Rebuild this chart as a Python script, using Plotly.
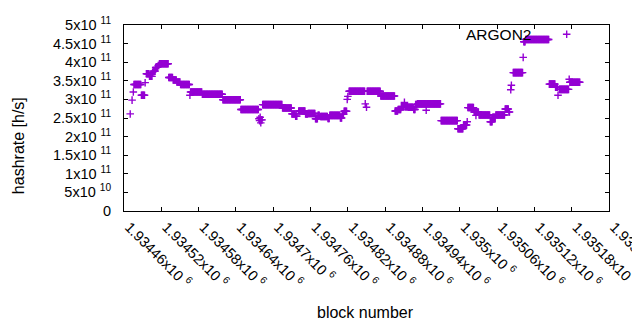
import plotly.graph_objects as go

# Runs of consecutive blocks sharing the same hashrate, values in units of 1e9 h/s
run_start = [1934470, 1934473, 1934475, 1934476, 1934488, 1934494, 1934496, 1934501, 1934506, 1934507,
             1934511, 1934515, 1934517, 1934532, 1934539, 1934545, 1934551, 1934566, 1934567, 1934586,
             1934619, 1934648, 1934677, 1934678, 1934679, 1934680, 1934681, 1934683, 1934715, 1934730,
             1934736, 1934741, 1934752, 1934756, 1934768, 1934772, 1934776, 1934788, 1934791, 1934808,
             1934811, 1934814, 1934819, 1934820, 1934822, 1934848, 1934850, 1934851, 1934873, 1934896,
             1934901, 1934906, 1934911, 1934912, 1934917, 1934926, 1934929, 1934932, 1934946, 1934970,
             1934997, 1935006, 1935012, 1935013, 1935023, 1935026, 1935031, 1935049, 1935053, 1935058,
             1935073, 1935079, 1935082, 1935083, 1935086, 1935102, 1935103, 1935106, 1935144, 1935154,
             1935158, 1935160, 1935176, 1935177]
run_end = [1934470, 1934473, 1934475, 1934487, 1934493, 1934494, 1934500, 1934505, 1934506, 1934510,
           1934514, 1934516, 1934531, 1934538, 1934544, 1934550, 1934565, 1934566, 1934585, 1934618,
           1934647, 1934676, 1934677, 1934678, 1934679, 1934680, 1934682, 1934714, 1934729, 1934735,
           1934738, 1934751, 1934755, 1934767, 1934771, 1934774, 1934787, 1934790, 1934807, 1934810,
           1934813, 1934818, 1934819, 1934820, 1934847, 1934848, 1934850, 1934872, 1934895, 1934900,
           1934905, 1934910, 1934911, 1934916, 1934925, 1934928, 1934931, 1934969, 1934946, 1934996,
           1935005, 1935011, 1935012, 1935022, 1935030, 1935026, 1935048, 1935052, 1935057, 1935072,
           1935078, 1935080, 1935082, 1935083, 1935101, 1935102, 1935105, 1935143, 1935153, 1935157,
           1935158, 1935175, 1935176, 1935193]
run_hashrate_g = [261, 298, 320, 340, 311, 345, 369, 362, 373, 376,
                  386, 391, 396, 359, 352, 347, 340, 311, 320, 314,
                  299, 273, 248, 243, 252, 237, 245, 286, 277, 261,
                  255, 269, 261, 262, 248, 257, 254, 249, 257, 250,
                  260, 268, 300, 308, 322, 288, 279, 322, 309, 269,
                  273, 280, 292, 280, 279, 273, 286, 288, 271, 243,
                  221, 231, 240, 278, 266, 257, 258, 240, 252, 258,
                  274, 266, 326, 338, 372, 413, 455, 461, 341, 333,
                  311, 327, 354, 346]

series_name = "ARGON2"

# Axis ticks
x_tick_values = [1934460, 1934520, 1934580, 1934640, 1934700, 1934760, 1934820,
                 1934880, 1934940, 1935000, 1935060, 1935120, 1935180, 1935240]
x_tick_labels = ["1.93446x10 <sup>6</sup>", "1.93452x10 <sup>6</sup>", "1.93458x10 <sup>6</sup>",
                 "1.93464x10 <sup>6</sup>", "1.9347x10 <sup>6</sup>", "1.93476x10 <sup>6</sup>",
                 "1.93482x10 <sup>6</sup>", "1.93488x10 <sup>6</sup>", "1.93494x10 <sup>6</sup>",
                 "1.935x10 <sup>6</sup>", "1.93506x10 <sup>6</sup>", "1.93512x10 <sup>6</sup>",
                 "1.93518x10 <sup>6</sup>", "1.93524x10 <sup>6</sup>"]
y_tick_values = [0, 5e10, 1e11, 1.5e11, 2e11, 2.5e11, 3e11, 3.5e11, 4e11, 4.5e11, 5e11]
y_tick_labels = ["0", "5x10 <sup>10</sup>", "1x10 <sup>11</sup>", "1.5x10 <sup>11</sup>",
                 "2x10 <sup>11</sup>", "2.5x10 <sup>11</sup>", "3x10 <sup>11</sup>",
                 "3.5x10 <sup>11</sup>", "4x10 <sup>11</sup>", "4.5x10 <sup>11</sup>",
                 "5x10 <sup>11</sup>"]

# one point per block inside each run
blocks, hashrates = [], []
for s, e, v in zip(run_start, run_end, run_hashrate_g):
    for b in range(s, e + 1):
        blocks.append(b)
        hashrates.append(v * 1e9)

PURPLE = "#9400D3"
FONT = "Liberation Sans, Arial, sans-serif"

fig = go.Figure()
fig.add_trace(go.Scatter(
    x=blocks, y=hashrates, mode="markers", name="",
    marker=dict(symbol="cross-thin", size=5.4, color=PURPLE,
                line=dict(color=PURPLE, width=1.4)),
    showlegend=True,
))

axis_common = dict(showline=True, linecolor="black", linewidth=1, mirror="allticks",
                   ticks="inside", ticklen=4, tickcolor="black", tickwidth=1,
                   showgrid=False, zeroline=False, automargin=False,
                   ticklabeloverflow="allow",
                   tickfont=dict(family=FONT, size=14.5, color="black"))

fig.update_xaxes(range=[x_tick_values[0], x_tick_values[-1]], tickmode="array",
                 tickvals=x_tick_values, ticktext=x_tick_labels, tickangle=45,
                 ticklabelstandoff=1, ticklabelshift=5, **axis_common)
fig.update_yaxes(range=[0, 5e11], tickmode="array",
                 tickvals=y_tick_values, ticktext=y_tick_labels,
                 ticklabelstandoff=9, **axis_common)

fig.add_annotation(text="hashrate [h/s]", xref="paper", yref="paper", x=-0.2186, y=0.354,
                   textangle=-90, showarrow=False, xanchor="center", yanchor="middle",
                   font=dict(family=FONT, size=16, color="black"))
fig.add_annotation(text="block number", xref="paper", yref="paper", x=0.497, y=-0.548,
                   showarrow=False, xanchor="center", yanchor="middle",
                   font=dict(family=FONT, size=16, color="black"))
fig.add_annotation(text=series_name, xref="paper", yref="paper", x=0.8425, y=0.95,
                   showarrow=False, xanchor="right", yanchor="middle",
                   font=dict(family=FONT, size=15.5, color="black"))

# The page body has an 8px default margin: shrink the figure by 8px so the plot
# area lands at the same pixels as in the reference (left 124, right 609, top 19, bottom 211).
fig.update_layout(
    width=632, height=322,
    margin=dict(l=116, r=31, t=11, b=119),
    paper_bgcolor="white", plot_bgcolor="white",
    legend=dict(x=0.8715, y=0.948, xanchor="left", yanchor="middle",
                bgcolor="rgba(0,0,0,0)", font=dict(family=FONT, size=14)),
    font=dict(family=FONT, color="black"),
)

fig.write_html("out.html")
